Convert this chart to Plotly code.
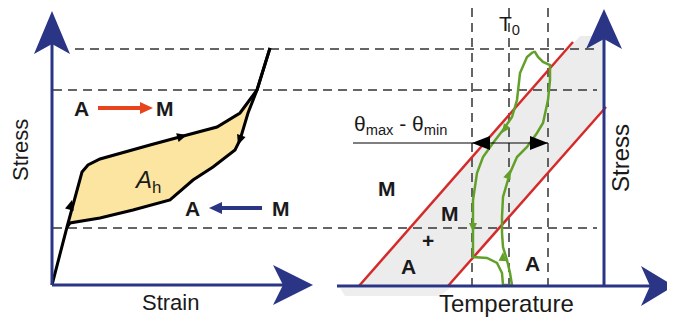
import math
import plotly.graph_objects as go

# ---------------- data (diagram coordinates, px-like units) ----------------
# Left panel: stress-strain hysteresis
load_x = [52, 67, 82, 88, 100, 130, 150, 187, 217, 240, 250, 257, 270]
load_y = [285, 227, 172, 165, 159, 151, 145, 135, 127, 113, 100, 90, 48]
unload_x = [270, 257, 248, 240, 235, 213, 193, 170, 133, 100, 70, 67]
unload_y = [48, 90, 113, 140, 150, 167, 180, 200, 210, 218, 223, 227]
fill_x = [67, 82, 88, 100, 130, 150, 187, 217, 240, 250, 248, 240, 235, 213, 193, 170, 133, 100, 70, 67]
fill_y = [227, 172, 165, 159, 151, 145, 135, 127, 113, 100, 113, 140, 150, 167, 180, 200, 210, 218, 223, 227]
curve_arrow_x = [72, 187, 238]
curve_arrow_y = [200, 135, 145]
curve_arrow_dir = [(0.27, -1), (1, -0.28), (-0.35, 1)]

# Right panel: stress-temperature phase diagram
red1_x = [359, 573]
red1_y = [286, 42]
red2_x = [448, 606]
red2_y = [286, 107]
gray_x = [359, 580, 604, 604, 448]
gray_y = [286, 36, 36, 107, 286]
green_x = [533, 527, 520, 517, 512, 503, 493, 483, 477, 473, 473, 473,
           487, 497, 502, 503, 512, 510, 507, 503, 502, 502, 503, 510, 517,
           527, 537, 543, 548, 550, 550, 543, 538, 535, 533]
green_y = [52, 57, 73, 100, 117, 130, 143, 157, 173, 200, 230, 257,
           258, 263, 273, 285, 285, 273, 260, 247, 233, 217, 197, 173, 157,
           147, 133, 123, 100, 80, 65, 62, 57, 52, 52]
green_arrow_x = [502, 473, 510, 503]
green_arrow_y = [133, 232, 170, 252]
green_arrow_dir = [(-0.7, 1), (0, 1), (0.35, -1), (0.05, -1)]

# Reference (dashed) levels
stress_levels = [49, 90, 228]
stress_starts = [75, 53, 53]
temp_levels = [472, 509, 548]

# Labels
labels = [
    ("Stress", 20, 150, 22, -90, False),
    ("Strain", 170, 302, 22, 0, False),
    ("Temperature", 506, 303, 24, 0, False),
    ("Stress", 620, 158, 24, -90, False),
    ("A", 81, 108, 21, 0, True),
    ("M", 165, 108, 21, 0, True),
    ("A", 192, 208, 21, 0, True),
    ("M", 281, 208, 21, 0, True),
    ("M", 387, 188, 21, 0, True),
    ("M", 450, 213, 21, 0, True),
    ("+", 428, 240, 21, 0, True),
    ("A", 408, 266, 21, 0, True),
    ("A", 532, 263, 21, 0, True),
]

NAVY = "#2a3586"
RED = "#d42a2a"
GREEN = "#62a02a"
DASH = "#333333"

fig = go.Figure()

def poly(xs, ys, color, line_color=None, lw=0):
    fig.add_trace(go.Scatter(x=xs, y=ys, mode="lines", fill="toself",
                             fillcolor=color, line=dict(color=line_color or color, width=lw),
                             hoverinfo="skip", showlegend=False))

def line(xs, ys, color, w, dash=None):
    fig.add_trace(go.Scatter(x=xs, y=ys, mode="lines",
                             line=dict(color=color, width=w, dash=dash),
                             hoverinfo="skip", showlegend=False))

def chevron(tip, direction, length, half, notch, color):
    dx, dy = direction
    n = math.hypot(dx, dy); dx /= n; dy /= n
    px, py = -dy, dx
    tx, ty = tip
    bx, by = tx - dx * length, ty - dy * length
    nx, ny = tx - dx * (length - notch), ty - dy * (length - notch)
    xs = [tx, bx + px * half, nx, bx - px * half, tx]
    ys = [ty, by + py * half, ny, by - py * half, ty]
    poly(xs, ys, color)

def tri(tip, direction, length, half, color):
    dx, dy = direction
    n = math.hypot(dx, dy); dx /= n; dy /= n
    px, py = -dy, dx
    tx, ty = tip
    bx, by = tx - dx * length, ty - dy * length
    poly([tx, bx + px * half, bx - px * half, tx], [ty, by + py * half, by - py * half, ty], color)

# gray band
poly(gray_x, gray_y, "#ececec")
# faint shadow under the temperature axis
poly([340, 450, 440, 345], [288, 288, 296, 296], "#eeeeee")
# yellow hysteresis area
poly(fill_x, fill_y, "#fbe5a0")

# dashed levels
for y0, xs0 in zip(stress_levels, stress_starts):
    line([xs0, 597], [y0, y0], DASH, 1.5, "9px,6px")
for x0 in temp_levels:
    line([x0, x0], [8, 285], DASH, 1.5, "9px,6px")

# red transformation lines
line(red1_x, red1_y, RED, 2.5)
line(red2_x, red2_y, RED, 2.5)

# green loop
line(green_x, green_y, GREEN, 2.5)
for x0, y0, d in zip(green_arrow_x, green_arrow_y, green_arrow_dir):
    tri((x0, y0), d, 9, 4, GREEN)

# hysteresis curve
line(load_x, load_y, "black", 3)
line(unload_x, unload_y, "black", 3)
for x0, y0, d in zip(curve_arrow_x, curve_arrow_y, curve_arrow_dir):
    tri((x0, y0), d, 10, 4.5, "black")

# theta range line with arrows
line([353, 548], [143, 143], "black", 1.2)
tri((472, 143), (-1, 0), 18, 7, "black")
tri((548, 143), (1, 0), 18, 7, "black")

# A->M red arrow, A<-M blue arrow
line([98, 142], [108, 108], "#e8431c", 4)
tri((153, 108), (1, 0), 13, 6, "#e8431c")
line([220, 262], [208, 208], NAVY, 4)
tri((209, 208), (-1, 0), 13, 6, NAVY)

# axes
line([52, 52], [285, 42], NAVY, 3)
line([52, 290], [285, 285], NAVY, 3)
chevron((52, 11), (0, -1), 43, 18, 10, NAVY)
chevron((313, 285), (1, 0), 40, 20, 10, NAVY)
line([337, 660], [286, 286], NAVY, 3)
line([604, 604], [286, 30], NAVY, 3)
chevron((604, 9), (0, -1), 40, 18, 10, NAVY)
chevron((674, 286), (1, 0), 33, 20, 9, NAVY)

FONT = "Liberation Sans, Arial"
ann = []
for text, x0, y0, size, ang, bold in labels:
    ann.append(dict(x=x0, y=y0, xref="x", yref="y", text=f"<b>{text}</b>" if bold else text,
                    showarrow=False, textangle=ang,
                    font=dict(family=FONT, size=size, color="#1a1a1a")))
ann.append(dict(x=147, y=181, xref="x", yref="y", text="<i>A</i><sub>h</sub>", showarrow=False,
                font=dict(family=FONT, size=24, color="#1a1a1a")))
ann.append(dict(x=509, y=25, xref="x", yref="y", text="T<sub>0</sub>", showarrow=False,
                font=dict(family=FONT, size=21, color="#1a1a1a")))
ann.append(dict(x=400, y=125, xref="x", yref="y", text="θ<sub>max</sub> - θ<sub>min</sub>",
                showarrow=False, font=dict(family=FONT, size=21, color="#1a1a1a")))

# The page body has an 8px margin: the figure is sized and ranged so that
# diagram coordinates coincide with window pixels.
fig.update_layout(
    width=667, height=316, margin=dict(l=0, r=0, t=0, b=0),
    paper_bgcolor="white", plot_bgcolor="white", showlegend=False,
    xaxis=dict(range=[8, 675], visible=False, fixedrange=True),
    yaxis=dict(range=[324, 8], visible=False, fixedrange=True),
    annotations=ann,
)
fig.write_html("out.html")
